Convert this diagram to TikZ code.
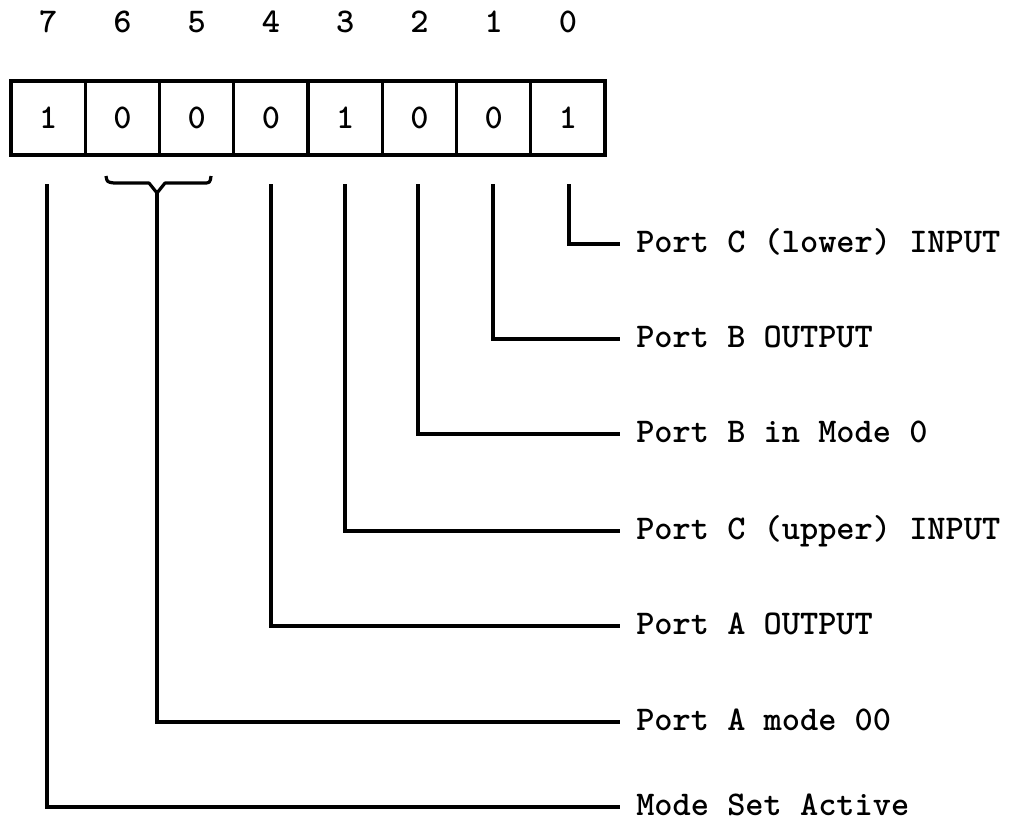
\documentclass[tikz,border=0pt]{standalone}
\begin{document}
\begin{tikzpicture}[x=0.75pt,y=-0.75pt,
  line width=2.4pt,
  txt/.style={font=\fontsize{26}{30}\ttfamily\bfseries\selectfont},
  cell/.style={txt, draw, line width=2.4pt, minimum width=55.69pt, minimum height=55.5pt, inner sep=0pt},
  bitnum/.style={txt, inner sep=0pt},
  lbl/.style={txt, anchor=west, inner ysep=0pt, inner xsep=11pt, text height=13pt, text depth=0pt},
  wire/.style={line width=2.4pt, line join=miter}]
\useasboundingbox (0,0) rectangle (1017,821);
% cells
\node[cell] (c7) at (48.1,118) {1};
\node[cell] (c6) at (122.4,118) {0};
\node[cell] (c5) at (196.6,118) {0};
\node[cell] (c4) at (270.9,118) {0};
\node[cell] (c3) at (345.1,118) {1};
\node[cell] (c2) at (419.4,118) {0};
\node[cell] (c1) at (493.6,118) {0};
\node[cell] (c0) at (567.9,118) {1};
% bit numbers
\node[bitnum] (b7) at (48.1,22) {7};
\node[bitnum] (b6) at (122.4,22) {6};
\node[bitnum] (b5) at (196.6,22) {5};
\node[bitnum] (b4) at (270.9,22) {4};
\node[bitnum] (b3) at (345.1,22) {3};
\node[bitnum] (b2) at (419.4,22) {2};
\node[bitnum] (b1) at (493.6,22) {1};
\node[bitnum] (b0) at (567.9,22) {0};
% labels
\node[lbl] (t0) at (620,244) {Port C (lower) INPUT};
\node[lbl] (t1) at (620,339) {Port B OUTPUT};
\node[lbl] (t2) at (620,434) {Port B in Mode 0};
\node[lbl] (t3) at (620,531) {Port C (upper) INPUT};
\node[lbl] (t4) at (620,626) {Port A OUTPUT};
\node[lbl] (t65) at (620,722) {Port A mode 00};
\node[lbl] (t7) at (620,807) {Mode Set Active};
% line starts
\coordinate (s7) at (47,184);
\coordinate (s4) at (271,184);
\coordinate (s3) at (345,184);
\coordinate (s2) at (418,184);
\coordinate (s1) at (493,184);
\coordinate (s0) at (569,184);
\coordinate (bt) at (157,193);
% brace
\draw[wire, line join=round] (106,176) .. controls (107,182) .. (114,183) -- (149,183) -- (bt) -- (165,183) -- (203,183) .. controls (210,183) .. (211,176);
% connectors
\draw[wire] (s0) |- (t0.west);
\draw[wire] (s1) |- (t1.west);
\draw[wire] (s2) |- (t2.west);
\draw[wire] (s3) |- (t3.west);
\draw[wire] (s4) |- (t4.west);
\draw[wire] (bt) |- (t65.west);
\draw[wire] (s7) |- (t7.west);
\end{tikzpicture}
\end{document}
